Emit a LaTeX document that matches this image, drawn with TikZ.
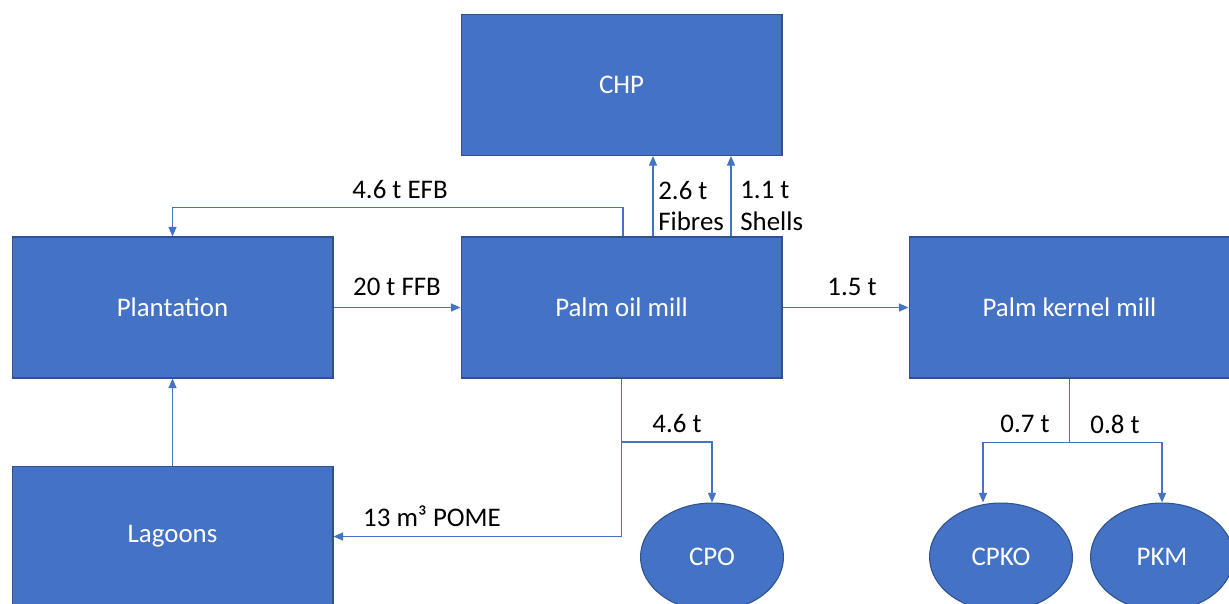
\documentclass[tikz,border=0pt]{standalone}
\usepackage{fontspec}
\setmainfont{Carlito}
\usetikzlibrary{arrows.meta,shapes.geometric}

\definecolor{officeblue}{RGB}{68,114,196}
\definecolor{officeedge}{RGB}{47,82,143}

\tikzset{
    unit/.style={rectangle, draw=officeedge, line width=0.6pt, fill=officeblue,
        text=white, minimum width=6.42cm, minimum height=2.82cm,
        font=\fontsize{15.3}{18}\selectfont},
    product/.style={ellipse, draw=officeedge, line width=0.6pt, fill=officeblue,
        text=white, minimum width=2.86cm, minimum height=2.16cm,
        font=\fontsize{15.3}{18}\selectfont},
    flow/.style={draw=officeblue, line width=0.7pt, -{Triangle[length=5.5pt,width=4.6pt]}},
    flowlabel/.style={font=\fontsize{15.3}{18}\selectfont, inner sep=0pt}
}

\begin{document}
\begin{tikzpicture}[x=0.02cm, y=-0.02cm]
    \useasboundingbox (0,0) rectangle (1229,603);

    % Process units
    \node[unit] (chp) at (621.5,85) {CHP};
    \node[unit] (plant) at (172.5,307.5) {Plantation};
    \node[unit] (mill) at (621.5,307.5) {Palm oil mill};
    \node[unit] (kernel) at (1069.5,307.5) {Palm kernel mill};
    \node[unit] (lag) at (172.5,536.5) {Lagoons};

    % Products
    \node[product] (cpo) at (712,557) {CPO};
    \node[product] (cpko) at (1001,557) {CPKO};
    \node[product] (pkm) at (1162,557) {PKM};

    % Main flows
    \draw[flow] (plant) -- (mill);
    \draw[flow] (mill) -- (kernel);
    \draw[flow] (lag) -- (plant);

    % Residues to CHP and back to plantation
    \draw[flow] ([xshift=0.03cm]mill.north) -- ++(0,-29) -| (plant.north);
    \draw[flow] ([xshift=0.63cm]mill.north) -- ([xshift=0.63cm]chp.south);
    \draw[flow] ([xshift=2.19cm]mill.north) -- ([xshift=2.19cm]chp.south);

    % Oil mill outputs
    \draw[flow] (mill.south) |- (lag.east);
    \coordinate (oiljoint) at (mill.south |- 0,442);
    \draw[flow] (oiljoint) -| (cpo.north);

    % Kernel mill outputs
    \draw[draw=officeblue, line width=0.7pt] (kernel.south) -- ++(0,64) coordinate (kerneljoint);
    \draw[flow] (kerneljoint) -| ([xshift=-0.36cm]cpko.north);
    \draw[flow] (kerneljoint) -| (pkm.north);

    % Labels
    \node[flowlabel] (lefb) at (400,190) {4.6 t EFB};
    \node[flowlabel, anchor=west, align=left] (lfib) at (658,206) {2.6 t\\Fibres};
    \node[flowlabel, anchor=west, align=left] (lshell) at (740,206) {1.1 t\\Shells};
    \node[flowlabel] (lffb) at (397,287) {20 t FFB};
    \node[flowlabel] (lpk) at (852,287) {1.5 t};
    \node[flowlabel] (lcpo) at (677,424) {4.6 t};
    \node[flowlabel] (lcpko) at (1025,424) {0.7 t};
    \node[flowlabel] (lpkm) at (1115,424) {0.8 t};
    \node[flowlabel] (lpome) at (432,516) {13 m³ POME};
\end{tikzpicture}
\end{document}
